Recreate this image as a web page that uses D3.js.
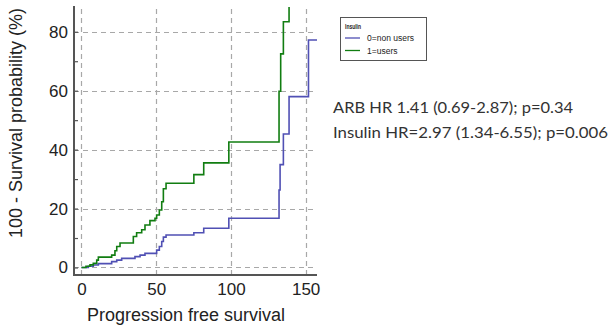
<!DOCTYPE html>
<html><head><meta charset="utf-8">
<script src="https://cdn.jsdelivr.net/npm/d3@7"></script>
<style>
body{margin:0;background:#fff;}
svg{display:block;}
</style></head>
<body><svg id="c" width="609" height="327"></svg>
<script>
// ---- data ----
const usersTime   = [0, 3, 5.7, 7.9, 10.2, 11.3, 20.2, 22.4, 23.6, 25.8, 34.7, 36.9, 40.3, 42.5, 45.8, 49.2, 50.3, 52.1, 53.7, 54.8, 56.6, 75.2, 81.8, 98.6, 132.2, 133.3, 135.1, 138.9];
const usersValue  = [0, 0.4, 0.9, 1.4, 2.5, 3.5, 4.2, 5.7, 7.1, 8.3, 10.5, 11.8, 12.8, 14.4, 15.9, 16.7, 17.8, 19.5, 22.3, 26.7, 28.6, 31.5, 35.5, 42.6, 59.8, 72.5, 83.4, 88.4];
const nonUsersTime  = [0, 4.6, 7.9, 11.3, 20.2, 23.6, 26.9, 35.8, 39.2, 42.5, 50.3, 52.1, 53.7, 54.8, 56.6, 75.2, 81.8, 98.6, 132.2, 132.9, 135.1, 138.9, 151.9, 157.6];
const nonUsersValue = [0, 0.4, 0.85, 1.3, 2.0, 2.5, 3.1, 3.7, 4.2, 4.8, 5.9, 7.1, 8.8, 10.3, 11.0, 11.8, 13.3, 16.7, 26.3, 34.9, 45.3, 58.0, 77.2, 77.2];
const seriesNames = ["0=non users", "1=users"];
const legendTitle = "Insulin";
const xTicks = [0, 50, 100, 150];
const yTicks = [0, 10, 20, 30, 40, 50, 60, 70, 80];
const yLabelTicks = [0, 20, 40, 60, 80];
const xTitle = "Progression free survival";
const yTitle = "100 - Survival probability (%)";
const notes = ["ARB HR 1.41 (0.69-2.87); p=0.34", "Insulin HR=2.97 (1.34-6.55); p=0.006"];

// ---- layout ----
const svg = d3.select("#c");
const L = 74, R = 317, T = 7, B = 275;
const x = d3.scaleLinear().domain([-5, 157.6]).range([L, R]);
const y = d3.scaleLinear().domain([-2.55, 88.4]).range([B, T]);
const colors = ["#5050b4", "#117d11"];
const font = "'Liberation Sans', Arial, sans-serif";

// grid
const grid = svg.append("g").attr("stroke", "#a8a8a8").attr("stroke-width", 1.2).attr("stroke-dasharray", "5,4");
grid.selectAll("line.h").data(yLabelTicks).join("line")
  .attr("x1", L).attr("x2", R).attr("y1", d => Math.round(y(d)) + 0.5).attr("y2", d => Math.round(y(d)) + 0.5);
grid.selectAll("line.v").data(xTicks).join("line")
  .attr("y1", B).attr("y2", T).attr("x1", d => Math.round(x(d)) + 0.5).attr("x2", d => Math.round(x(d)) + 0.5);

// curves
const line = d3.line().curve(d3.curveStepAfter).x(d => x(d[0])).y(d => y(d[1]));
const series = [
  nonUsersTime.map((t, i) => [t, nonUsersValue[i]]),
  usersTime.map((t, i) => [t, usersValue[i]])
];
svg.append("g").selectAll("path").data(series).join("path")
  .attr("d", line).attr("fill", "none")
  .attr("stroke", (d, i) => colors[i]).attr("stroke-width", 1.6);

// axes
const yAxis = d3.axisLeft(y).tickValues(yTicks).tickSizeInner(-4).tickSizeOuter(0).tickPadding(6)
  .tickFormat(d => yLabelTicks.includes(d) ? d : "");
const gy = svg.append("g").attr("transform", `translate(${L},0)`).call(yAxis);
const xAxis = d3.axisBottom(x).tickValues(xTicks).tickSizeInner(0).tickSizeOuter(0).tickPadding(8);
const gx = svg.append("g").attr("transform", `translate(0,${B})`).call(xAxis);
[gx, gy].forEach(g => {
  g.select(".domain").remove();
  g.selectAll("text").attr("font-family", font).attr("font-size", 17).attr("fill", "#222");
  g.selectAll(".tick line").attr("stroke", "#555").attr("stroke-width", 1.2);
});
svg.append("line").attr("x1", L).attr("x2", L).attr("y1", T - 1).attr("y2", B + 1).attr("stroke", "#555").attr("stroke-width", 2);
svg.append("line").attr("x1", L - 1).attr("x2", R).attr("y1", B).attr("y2", B).attr("stroke", "#555").attr("stroke-width", 2);

// titles
svg.append("text").attr("x", 186).attr("y", 321).attr("text-anchor", "middle")
  .attr("font-family", font).attr("font-size", 18).attr("fill", "#222").text(xTitle);
svg.append("text").attr("transform", "translate(22,123) rotate(-90)").attr("text-anchor", "middle")
  .attr("font-family", font).attr("font-size", 18).attr("fill", "#222").text(yTitle);

// legend
const lg = svg.append("g");
lg.append("rect").attr("x", 340.5).attr("y", 17.5).attr("width", 86).attr("height", 43)
  .attr("fill", "#fff").attr("stroke", "#555").attr("stroke-width", 1);
lg.append("text").attr("x", 345).attr("y", 29).attr("font-family", font).attr("font-size", 8)
  .attr("fill", "#222").attr("font-weight", "bold").attr("textLength", 16).attr("lengthAdjust", "spacingAndGlyphs").text(legendTitle);
seriesNames.forEach((n, i) => {
  const yy = 38 + i * 12.5;
  lg.append("line").attr("x1", 345).attr("x2", 360).attr("y1", yy).attr("y2", yy)
    .attr("stroke", colors[i]).attr("stroke-width", 1.3);
  lg.append("text").attr("x", 367).attr("y", yy + 3).attr("font-family", font).attr("font-size", 8.5)
    .attr("fill", "#222").text(n);
});

// notes
notes.forEach((t, i) => {
  svg.append("text").attr("x", 333).attr("y", 113 + i * 25).attr("font-family", "Lato, 'Open Sans', sans-serif")
    .attr("font-size", 15).attr("fill", "#333")
    .attr("textLength", i === 0 ? 240 : 275).attr("lengthAdjust", "spacingAndGlyphs").text(t);
});
</script></body></html>
